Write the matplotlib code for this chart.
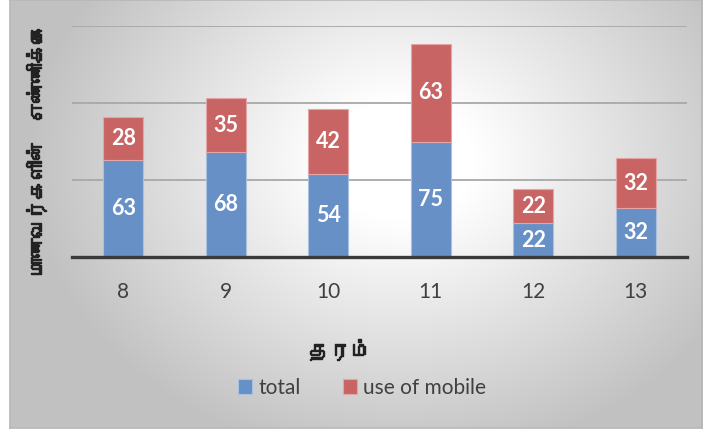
import numpy as np
import matplotlib
matplotlib.use("Agg")
import matplotlib.pyplot as plt
import matplotlib.patheffects as pe
from matplotlib import font_manager
from matplotlib.ft2font import FT2Font

grades = ["8", "9", "10", "11", "12", "13"]
total = [63, 68, 54, 75, 22, 32]
use_of_mobile = [28, 35, 42, 63, 22, 32]
series_names = ["total", "use of mobile"]
y_title = "மாணவர்களின்  எண்ணிக்கை"
x_title = "தரம்"


def find_tamil_font():
    # look for any installed font that has Tamil glyphs
    for f in font_manager.fontManager.ttflist:
        try:
            cmap = FT2Font(f.fname).get_charmap()
        except Exception:
            continue
        if 0x0BA4 in cmap and 0x0BAE in cmap:
            return f.name
    return None


tamil = find_tamil_font()
tamil_family = [tamil, "DejaVu Sans"] if tamil else ["DejaVu Sans"]
plt.rcParams['font.family'] = ['Lato', 'DejaVu Sans']

W, H = 707, 432
fig = plt.figure(figsize=(W / 100, H / 100), dpi=100)
fig.patch.set_facecolor("white")

# radial gradient background panel
bg = fig.add_axes([10 / W, 4 / H, 692 / W, 428 / H])
yy, xx = np.mgrid[0:428, 0:692]
r = np.sqrt(((xx - 390) / 370.0) ** 2 + ((yy - 160) / 300.0) ** 2)
shade = np.clip(1.0 - 0.30 * np.clip(r - 0.2, 0, None), 0.76, 1.0)
bg.imshow(np.dstack([shade] * 3), aspect="auto", extent=[0, 1, 0, 1])
bg.set_xticks([])
bg.set_yticks([])
for s in bg.spines.values():
    s.set_color("#b8b8b8")
    s.set_linewidth(1.2)

ax = fig.add_axes([72 / W, (H - 257) / H, 615 / W, 231 / H])
ax.patch.set_alpha(0)
x = np.arange(len(grades))
w = 0.39
b1 = ax.bar(x, total, w, color="#6690c6", edgecolor="#a9c1e0", linewidth=0.8,
            label=series_names[0], zorder=3)
b2 = ax.bar(x, use_of_mobile, w, bottom=total, color="#c96464", edgecolor="#e3a5a5",
            linewidth=0.8, label=series_names[1], zorder=3)
ax.bar_label(b1, label_type="center", color="white", fontsize=15.5, fontweight="bold")
ax.bar_label(b2, label_type="center", color="white", fontsize=15.5, fontweight="bold")

ax.set_xlim(-0.5, len(grades) - 0.5)
ax.set_ylim(0, 150)
ax.set_yticks([0, 50, 100, 150])
ax.yaxis.grid(True, color="#a8a8a8", linewidth=1.3, zorder=0)
ax.tick_params(axis="y", left=False, labelleft=False)
ax.tick_params(axis="x", length=0, pad=18, labelsize=15, labelcolor="#404040")
ax.set_xticks(x)
ax.set_xticklabels(grades)
for side in ["top", "right", "left"]:
    ax.spines[side].set_visible(False)
ax.spines["bottom"].set_color("#3a3a3a")
ax.spines["bottom"].set_linewidth(2.4)
ax.spines["bottom"].set_zorder(4)

bold = [pe.withStroke(linewidth=1.0, foreground="#222222")]
fig.text(340 / W, 1 - 350 / H, x_title, family=tamil_family, fontsize=15,
         fontweight="bold", ha="center", va="center", color="#222222",
         path_effects=bold)
fig.text(36 / W, 1 - 150 / H, y_title, family=tamil_family, fontsize=14,
         fontweight="bold", ha="center", va="center", rotation=90, color="#222222",
         path_effects=bold)

fig.legend(handles=[b1, b2], labels=series_names, loc="center",
           bbox_to_anchor=(362 / W, 1 - 388 / H), ncol=2, frameon=False,
           fontsize=15, handlelength=0.7, handleheight=0.7, handletextpad=0.3,
           columnspacing=2.0, labelcolor="#404040")

fig.savefig("out.png", dpi=100)
